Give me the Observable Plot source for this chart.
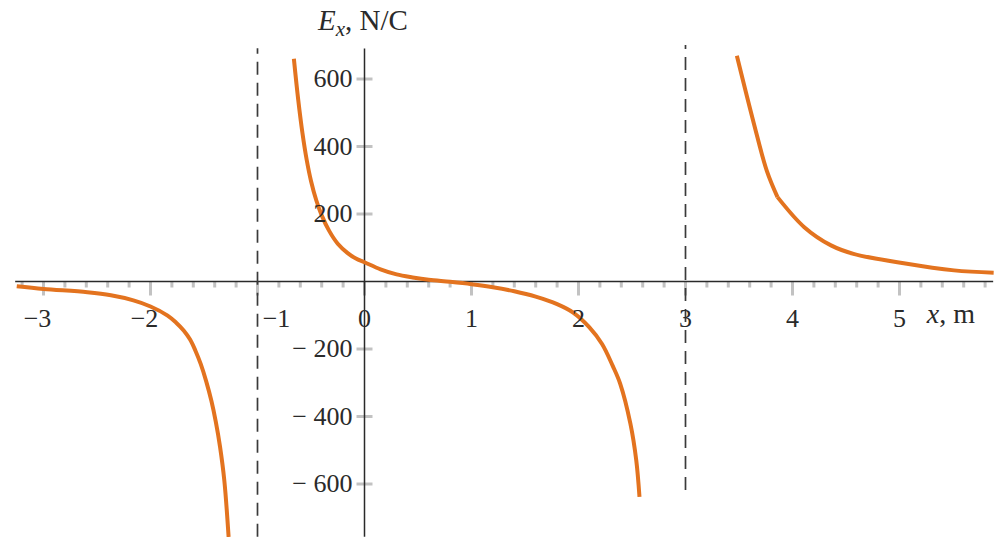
<!DOCTYPE html>
<html><head><meta charset="utf-8">
<script src="https://cdn.jsdelivr.net/npm/d3@7"></script>
<script src="https://cdn.jsdelivr.net/npm/@observablehq/plot@0.6"></script>
<style>
html,body{margin:0;padding:0;background:#fff;}
#chart svg{display:block;}
</style></head><body><div id="chart"></div>
<script>
// Branch x < -1
const leftX = [-3.25, -3.0, -2.59, -2.37, -2.16, -2.0, -1.84, -1.76, -1.69, -1.63, -1.58, -1.53, -1.48, -1.43, -1.39, -1.35, -1.31, -1.27];
const leftY = [-14, -22, -32, -41, -56, -74, -101, -122, -145, -172, -205, -245, -295, -355, -415, -490, -590, -757];
// Branch -1 < x < 3
const midX = [-0.66, -0.62, -0.58, -0.54, -0.50, -0.45, -0.40, -0.33, -0.25, -0.16, -0.08, 0, 0.15, 0.30, 0.45, 0.60, 0.80, 1.00, 1.20, 1.40, 1.60, 1.80, 1.95, 2.10, 2.22, 2.32, 2.39, 2.485, 2.54, 2.57];
const midY = [660, 540, 440, 360, 298, 240, 196, 150, 112, 85, 68, 57, 36, 21, 12, 5, -1, -8, -17, -29, -45, -67, -92, -135, -185, -250, -303, -421, -530, -638];
// Branch x > 3 (two pieces meeting at a corner)
const rightAX = [3.48, 3.64, 3.76, 3.86];
const rightAY = [669, 467, 328, 250];
const rightBX = [3.86, 4.11, 4.36, 4.57, 5.04, 5.51, 5.88];
const rightBY = [250, 161, 107, 82, 54, 33, 26];

// Charges (dashed asymptotes)
const chargeX = [-1, 3];
const dashTop = [690, 699];
const dashBottom = [-758, -619];

// Axes
const xMajorTicks = [-3, -2, -1, 0, 1, 2, 3, 4, 5];
const xTickLabels = ["−3", "−2", "−1", "0", "1", "2", "3", "4", "5"];
const xMinorTicks = d3.range(-16, 30).map(i => i / 5).filter(v => Math.abs(v - Math.round(v)) > 1e-9);
const yTicks = [-600, -400, -200, 200, 400, 600];
const yTickLabels = ["− 600", "− 400", "− 200", "200", "400", "600"];
const xAxisExtent = [-3.26, 5.88];
const yAxisExtent = [-758, 689];

const curve = [];
const addSeg = (xs, ys, name) => xs.forEach((x, i) => curve.push({x, y: ys[i], seg: name}));
addSeg(leftX, leftY, "left");
addSeg(midX, midY, "mid");
addSeg(rightAX, rightAY, "rightA");
addSeg(rightBX, rightBY, "rightB");

const xLabels = xMajorTicks.map((v, i) => ({v, label: xTickLabels[i]}));
const negLabels = xLabels.filter(d => d.v < -1);
const minusOneLabel = xLabels.filter(d => d.v === -1);
const posLabels = xLabels.filter(d => d.v >= 0);

const vTick = {draw(ctx, size) { const l = Math.sqrt(size / Math.PI); ctx.moveTo(0, 0); ctx.lineTo(0, l); }};
const hTick = {draw(ctx, size) { const l = Math.sqrt(size / Math.PI); ctx.moveTo(-l, 0); ctx.lineTo(l, 0); }};

const tickGrey = "#c2c2c2";
const ink = "#2a2a2a";
const font = "'Liberation Serif', 'DejaVu Serif', serif";

const plot = Plot.plot({
  width: 998,
  height: 537,
  margin: 0,
  x: {domain: [-364 / 107, 634 / 107], axis: null},
  y: {domain: [-758.5, 832.6], axis: null},
  style: {fontFamily: font, fontSize: "26px", color: ink, background: "#fff"},
  marks: [
    Plot.dot(xMinorTicks, {x: d => d, y: 0, r: 6, symbol: vTick, stroke: tickGrey, strokeWidth: 3, fill: "none"}),
    Plot.dot(xMajorTicks, {x: d => d, y: 0, r: 14, symbol: vTick, stroke: tickGrey, strokeWidth: 3, fill: "none"}),
    Plot.dot(yTicks, {x: 0, y: d => d, r: 8, symbol: hTick, stroke: tickGrey, strokeWidth: 3, fill: "none"}),
    Plot.ruleY([0], {x1: xAxisExtent[0], x2: xAxisExtent[1], stroke: ink, strokeWidth: 1.5}),
    Plot.ruleX([0], {y1: yAxisExtent[0], y2: yAxisExtent[1], stroke: ink, strokeWidth: 1.5}),
    Plot.ruleX(chargeX, {x: d => d, y1: (d, i) => dashBottom[i], y2: (d, i) => dashTop[i], stroke: "#3a3a3a", strokeWidth: 1.7, strokeDasharray: "13,8"}),
    Plot.line(curve, {x: "x", y: "y", z: "seg", stroke: "#e3731f", strokeWidth: 4, curve: "catmull-rom", strokeLinecap: "butt"}),
    Plot.text(negLabels, {x: "v", y: 0, text: "label", dy: 37, dx: -6, fill: ink, fontSize: 26}),
    Plot.text(minusOneLabel, {x: "v", y: 0, text: "label", dy: 37, dx: 19, fill: ink, fontSize: 26}),
    Plot.text(posLabels, {x: "v", y: 0, text: "label", dy: 37, fill: ink, fontSize: 26}),
    Plot.text(yTicks, {x: 0, y: d => d, text: (d, i) => yTickLabels[i], textAnchor: "end", dx: -12, fill: ink, fontSize: 26})
  ]
});

document.getElementById("chart").appendChild(plot);

// Axis titles with italic variables and subscript, placed through the plot's scales
const sx = plot.scale("x"), sy = plot.scale("y");
const svg = d3.select(plot);
const yTitle = svg.append("text")
  .attr("x", sx.apply(-0.43)).attr("y", sy.apply(744))
  .attr("text-anchor", "start")
  .attr("fill", ink).style("font-family", font).style("font-size", "29px");
yTitle.append("tspan").attr("font-style", "italic").text("E");
yTitle.append("tspan").attr("font-style", "italic").attr("font-size", "21px").attr("dy", 6).text("x");
yTitle.append("tspan").attr("dy", -6).text(", N/C");

const xTitle = svg.append("text")
  .attr("x", sx.apply(5.26)).attr("y", sy.apply(-125))
  .attr("text-anchor", "start")
  .attr("fill", ink).style("font-family", font).style("font-size", "28px");
xTitle.append("tspan").attr("font-style", "italic").text("x");
xTitle.append("tspan").text(", m");
</script>
</body></html>
